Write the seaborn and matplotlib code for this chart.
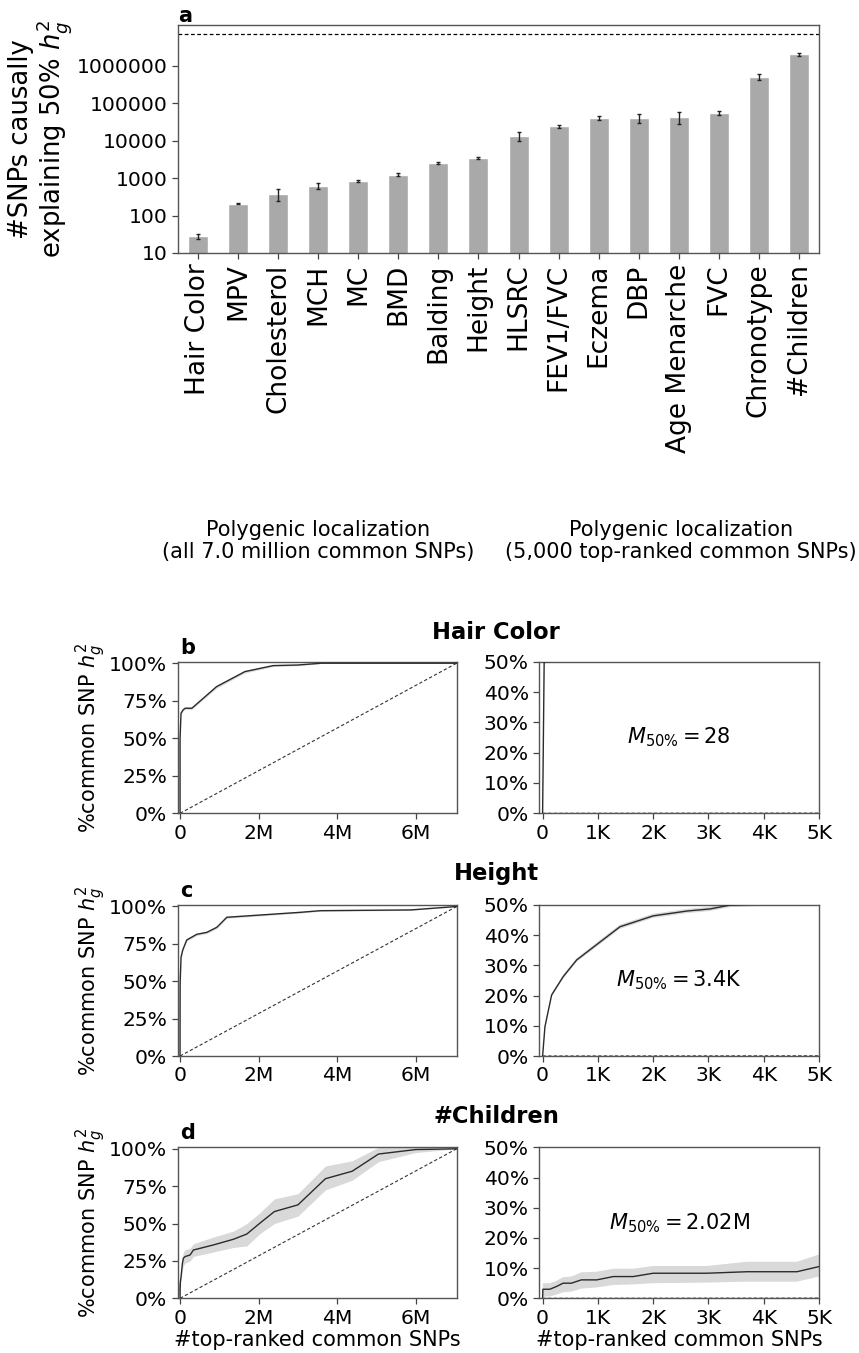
import matplotlib
matplotlib.use("Agg")
import matplotlib.pyplot as plt
from matplotlib.ticker import FixedLocator, NullLocator
import seaborn as sns

# ---------------- data ----------------
# panel a: number of causal SNPs explaining 50% of h2g, per trait
TRAITS = ["Hair Color", "MPV", "Cholesterol", "MCH", "MC", "BMD", "Balding",
          "Height", "HLSRC", "FEV1/FVC", "Eczema", "DBP", "Age Menarche",
          "FVC", "Chronotype", "#Children"]
M50 = [28, 208, 380, 615, 855, 1240, 2550, 3400, 13700, 24400, 40000,
       41500, 43200, 55500, 515000, 2020000]
M50_ERR = [4, 8, 135, 115, 55, 105, 105, 215, 3700, 2100, 5000, 11000,
           15000, 7000, 90000, 170000]
N_COMMON = 7.04e6
A_YTICKS = [10, 100, 1000, 10000, 100000, 1000000]
A_YTICKLABELS = ["10", "100", "1000", "10000", "100000", "1000000"]

# panels b-d: cumulative fraction of common SNP h2g vs. #top-ranked SNPs
HAIR_X = [0, 28, 25e3, 80e3, 130e3, 300e3, 930e3, 1.65e6, 2.37e6, 3.0e6,
          3.6e6, 7.04e6]
HAIR_Y = [0, 0.5, 0.667, 0.69, 0.70, 0.70, 0.844, 0.944, 0.984, 0.988,
          1.0, 1.0]
HAIR_LO = [0, 0.495, 0.66, 0.682, 0.692, 0.692, 0.834, 0.935, 0.978, 0.983,
           0.998, 1.0]
HAIR_HI = [0, 0.505, 0.674, 0.698, 0.708, 0.708, 0.854, 0.953, 0.99, 0.993,
           1.0, 1.0]

HEIGHT_X = [0, 42, 163, 373, 616, 1007, 1400, 2000, 2610, 3030, 3400,
            25e3, 68e3, 170e3, 425e3, 680e3, 936e3, 1.19e6, 2.04e6,
            3.06e6, 3.57e6, 5.87e6, 7.04e6]
HEIGHT_Y = [0, 0.097, 0.202, 0.263, 0.318, 0.373, 0.428, 0.464, 0.48,
            0.487, 0.5, 0.66, 0.709, 0.776, 0.814, 0.827, 0.861, 0.928,
            0.943, 0.961, 0.972, 0.977, 1.0]
HEIGHT_LO = [0, 0.093, 0.197, 0.257, 0.312, 0.366, 0.421, 0.457, 0.473,
             0.48, 0.493, 0.652, 0.701, 0.768, 0.806, 0.819, 0.853, 0.921,
             0.937, 0.956, 0.968, 0.974, 1.0]
HEIGHT_HI = [0, 0.101, 0.207, 0.269, 0.324, 0.38, 0.435, 0.471, 0.487,
             0.494, 0.507, 0.668, 0.717, 0.784, 0.822, 0.835, 0.869, 0.935,
             0.949, 0.966, 0.976, 0.98, 1.0]

CHILD_X = [0, 5, 130, 250, 370, 520, 700, 980, 1280, 1640, 2000, 2970,
           3700, 4600, 5000, 26e3, 60e3, 85e3, 128e3, 255e3, 340e3, 850e3,
           1.36e6, 1.70e6, 2.02e6, 2.4e6, 3.0e6, 3.7e6, 4.38e6, 5.05e6,
           6.0e6, 7.04e6]
CHILD_Y = [0, 0.03, 0.03, 0.039, 0.05, 0.05, 0.061, 0.061, 0.072, 0.072,
           0.083, 0.083, 0.088, 0.088, 0.105, 0.145, 0.234, 0.268, 0.279,
           0.29, 0.323, 0.357, 0.395, 0.43, 0.5, 0.58, 0.625, 0.80, 0.85,
           0.965, 0.995, 1.0]
CHILD_LO = [0, 0.005, 0.006, 0.012, 0.02, 0.022, 0.032, 0.036, 0.044,
            0.046, 0.05, 0.052, 0.055, 0.055, 0.072, 0.11, 0.19, 0.22,
            0.235, 0.25, 0.28, 0.31, 0.34, 0.35, 0.43, 0.50, 0.55, 0.725,
            0.79, 0.914, 0.975, 1.0]
CHILD_HI = [0, 0.05, 0.05, 0.058, 0.07, 0.072, 0.086, 0.088, 0.098, 0.098,
            0.107, 0.107, 0.121, 0.121, 0.145, 0.18, 0.28, 0.31, 0.325,
            0.335, 0.365, 0.41, 0.45, 0.50, 0.57, 0.665, 0.70, 0.885, 0.92,
            1.01, 1.01, 1.0]

FULL_XTICKS = [0, 2e6, 4e6, 6e6]
FULL_XTICKLABELS = ["0", "2M", "4M", "6M"]
FULL_YTICKS = [0, 0.25, 0.5, 0.75, 1.0]
FULL_YTICKLABELS = ["0%", "25%", "50%", "75%", "100%"]
TOP_XTICKS = [0, 1000, 2000, 3000, 4000, 5000]
TOP_XTICKLABELS = ["0", "1K", "2K", "3K", "4K", "5K"]
TOP_YTICKS = [0, 0.1, 0.2, 0.3, 0.4, 0.5]
TOP_YTICKLABELS = ["0%", "10%", "20%", "30%", "40%", "50%"]

ROWS = [
    ("b", "Hair Color", HAIR_X, HAIR_Y, HAIR_LO, HAIR_HI),
    ("c", "Height", HEIGHT_X, HEIGHT_Y, HEIGHT_LO, HEIGHT_HI),
    ("d", "#Children", CHILD_X, CHILD_Y, CHILD_LO, CHILD_HI),
]

# ---------------- style ----------------
sns.set_theme(style="ticks")
plt.rcParams.update({
    "font.family": ["DejaVu Sans"],
    "mathtext.fontset": "dejavusans",
    "text.color": "black",
    "axes.labelcolor": "black",
    "axes.edgecolor": "#555555",
    "axes.linewidth": 1.0,
    "xtick.color": "#444444",
    "ytick.color": "#444444",
    "xtick.labelcolor": "black",
    "ytick.labelcolor": "black",
    "xtick.major.size": 4,
    "ytick.major.size": 4,
    "xtick.major.width": 0.9,
    "ytick.major.width": 0.9,
})

W, H = 859, 1353
fig = plt.figure(figsize=(W / 100, H / 100), dpi=100)


def px_axes(left, top, right, bottom):
    return fig.add_axes([left / W, 1 - bottom / H, (right - left) / W,
                         (bottom - top) / H])


def fmt_m50(v):
    if v >= 1e6:
        return f"{v / 1e6:.2f}M"
    if v >= 1e3:
        return f"{v / 1e3:.1f}K"
    return f"{v:d}"


# ---------------- panel a ----------------
ax = px_axes(178, 25, 819, 253)
sns.barplot(x=TRAITS, y=M50, color="#a9a9a9", saturation=1, width=0.5,
            errorbar=None, ax=ax)
ax.set_yscale("log")
ax.errorbar(range(len(TRAITS)), M50, yerr=M50_ERR, fmt="none",
            ecolor="#222222", elinewidth=1.0, capsize=1.6, capthick=1.0)
ax.axhline(N_COMMON, color="black", ls="--", lw=0.9, dashes=(3, 2))
ax.set_xlim(-0.5, len(TRAITS) - 0.5)
ax.set_ylim(10, 1.23e7)
ax.yaxis.set_major_locator(FixedLocator(A_YTICKS))
ax.yaxis.set_minor_locator(NullLocator())
ax.set_yticklabels(A_YTICKLABELS, fontsize=14.6)
ax.tick_params(axis="x", labelsize=19, labelrotation=90)
ax.set_ylabel("#SNPs causally\nexplaining 50% $h_g^2$", fontsize=18.6,
              labelpad=2, linespacing=1.0)
ax.set_xlabel("")
fig.text(178 / W, 1 - 22 / H, "a", fontsize=15, fontweight="bold",
         ha="left", va="baseline")

# ---------------- column headers ----------------
fig.text(318 / W, 1 - 541 / H,
         "Polygenic localization\n(all 7.0 million common SNPs)",
         fontsize=15, ha="center", va="center", linespacing=1.15)
fig.text(681 / W, 1 - 541 / H,
         "Polygenic localization\n(5,000 top-ranked common SNPs)",
         fontsize=15, ha="center", va="center", linespacing=1.15)

# ---------------- panels b-d ----------------
row_px = [(661.7, 813.3), (905, 1056), (1147.3, 1298.3)]
title_base = [639, 880, 1123]
diag_x = [0, N_COMMON]
diag_y = [0, 1.0]

for i, (letter, name, xs, ys, lo, hi) in enumerate(ROWS):
    top, bot = row_px[i]
    axl = px_axes(177.7, top, 456.7, bot)
    axr = px_axes(539.3, top, 819, bot)
    for a in (axl, axr):
        a.fill_between(xs, lo, hi, color="#d9d9d9", lw=0, zorder=1)
        sns.lineplot(x=xs, y=ys, ax=a, color="#2b2b2b", lw=1.0,
                     errorbar=None, zorder=3)
        a.plot(diag_x, diag_y, color="#333333", ls="--", lw=0.8,
               dashes=(3, 2), zorder=2)
        a.tick_params(labelsize=14.6)
    axl.set_xlim(-0.06e6, N_COMMON)
    axl.set_ylim(0, 1.01)
    axl.set_xticks(FULL_XTICKS, FULL_XTICKLABELS)
    axl.set_yticks(FULL_YTICKS, FULL_YTICKLABELS)
    axr.set_xlim(-60, 5000)
    axr.set_ylim(0, 0.5)
    axr.set_xticks(TOP_XTICKS, TOP_XTICKLABELS)
    axr.set_yticks(TOP_YTICKS, TOP_YTICKLABELS)
    axl.set_ylabel("%common SNP $h_g^2$", fontsize=15, labelpad=1)
    axr.set_ylabel("")
    m50 = M50[TRAITS.index(name)]
    axr.text(0.5, 0.5, r"$M_{50\%} = \mathrm{" + fmt_m50(m50) + "}$",
             transform=axr.transAxes, ha="center", va="center", fontsize=15)
    if i == len(ROWS) - 1:
        axl.set_xlabel("#top-ranked common SNPs", fontsize=15, labelpad=2)
        axr.set_xlabel("#top-ranked common SNPs", fontsize=15, labelpad=2)
    fig.text(180 / W, 1 - (top - 8) / H, letter, fontsize=15,
             fontweight="bold", ha="left", va="baseline")
    fig.text(496 / W, 1 - title_base[i] / H, name, fontsize=16.3,
             fontweight="bold", ha="center", va="baseline")

fig.savefig("out.png", dpi=100)
